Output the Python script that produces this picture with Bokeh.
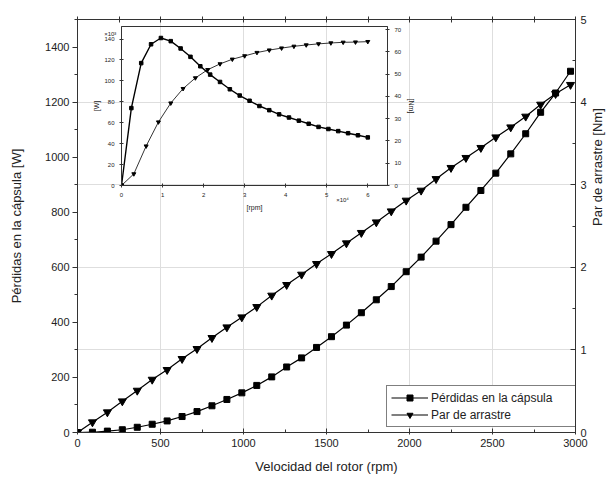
import math
from bokeh.plotting import figure
from bokeh.models import (Range1d, LinearAxis, Grid, SingleIntervalTicker, FixedTicker,
                          Legend, LegendItem, Label)
from bokeh.layouts import column
from bokeh.embed import file_html
from bokeh.resources import INLINE

# ---------------- data ----------------
speed_rpm = [0, 90, 180, 270, 360, 450, 540, 630, 720, 810, 900, 990, 1080, 1170,
             1260, 1350, 1440, 1530, 1620, 1710, 1800, 1890, 1980, 2070, 2160,
             2250, 2340, 2430, 2520, 2610, 2700, 2790, 2880, 2970]
losses_w = [0, 1, 5, 10, 19, 30, 42, 58, 76, 97, 120, 144, 171, 202,
            238, 271, 309, 348, 390, 435, 482, 530, 584, 637, 695,
            755, 818, 879, 942, 1012, 1085, 1163, 1233, 1312]
torque_nm = [0, 0.125, 0.246, 0.379, 0.508, 0.641, 0.759, 0.892, 1.013, 1.146,
             1.275, 1.396, 1.521, 1.659, 1.788, 1.913, 2.042, 2.163, 2.292,
             2.418, 2.546, 2.679, 2.809, 2.930, 3.07, 3.205, 3.326, 3.447,
             3.575, 3.696, 3.826, 3.971, 4.10, 4.21]

# inset (speed in units of 10^4 rpm)
inset_speed_loss = [0, 0.24, 0.48, 0.72, 0.96, 1.20, 1.44, 1.68, 1.92, 2.16, 2.40,
                    2.64, 2.88, 3.12, 3.36, 3.60, 3.84, 4.08, 4.32, 4.56, 4.80,
                    5.04, 5.28, 5.52, 5.76, 6.00]
inset_loss = [0, 74, 117, 135, 141, 138, 131, 123, 114, 106, 99, 92, 86, 81, 76,
              72, 68, 65, 62, 59, 56, 54, 52, 50, 48, 46]
inset_speed_torque = [0, 0.3, 0.6, 0.9, 1.2, 1.5, 1.8, 2.1, 2.4, 2.7, 3.0, 3.3,
                      3.6, 3.9, 4.2, 4.5, 4.8, 5.1, 5.4, 5.7, 6.0]
inset_torque = [0, 5.2, 17.7, 28.5, 37, 43.5, 48.3, 52, 54.6, 56.7, 58.2, 59.7,
                60.8, 61.7, 62.5, 63.1, 63.6, 64, 64.3, 64.4, 64.6]

series_names = ["Pérdidas en la cápsula", "Par de arrastre"]
top_ticks = [0, 250, 500, 750, 1000, 1250, 1500, 1750, 2000, 2250, 2500, 2750, 3000]

FONT = "Liberation Sans"
TXT = "#222222"
AX = "#333333"
GRID = "#dedede"

# ---------------- main figure ----------------
p = figure(width=615, height=482, x_range=Range1d(0, 3000), y_range=Range1d(0, 1500),
           output_backend="svg", toolbar_location=None,
           min_border_left=77, min_border_right=38, min_border_top=19,
           min_border_bottom=50,
           x_axis_label="Velocidad del rotor (rpm)",
           y_axis_label="Pérdidas en la cápsula [W]")
p.extra_y_ranges = {"torque": Range1d(0, 5)}
p.outline_line_color = AX
p.background_fill_color = "white"
p.border_fill_color = "white"

p.xgrid.ticker = SingleIntervalTicker(interval=500)
p.xgrid.grid_line_color = GRID
p.ygrid.visible = False
p.add_layout(Grid(dimension=1, y_range_name="torque",
                  ticker=SingleIntervalTicker(interval=1),
                  grid_line_color=GRID))


def style_axis(ax):
    ax.axis_line_color = AX
    ax.major_tick_line_color = AX
    ax.minor_tick_line_color = AX
    ax.major_label_text_font = FONT
    ax.major_label_text_font_size = "11px"
    ax.major_label_text_color = TXT
    ax.axis_label_text_font = FONT
    ax.axis_label_text_font_size = "13px"
    ax.axis_label_text_font_style = "normal"
    ax.axis_label_text_color = TXT


xa = p.xaxis[0]
xa.ticker = SingleIntervalTicker(interval=500, num_minor_ticks=2)
style_axis(xa)
xa.major_tick_in = 4
xa.major_tick_out = 2
xa.minor_tick_in = 3
xa.minor_tick_out = 0
xa.major_label_standoff = 4
xa.axis_label_standoff = 9

ya = p.yaxis[0]
ya.ticker = SingleIntervalTicker(interval=200, num_minor_ticks=2)
style_axis(ya)
ya.major_tick_in = 0
ya.major_tick_out = 5
ya.minor_tick_in = 0
ya.minor_tick_out = 3
ya.major_label_standoff = 3
ya.axis_label_standoff = 18

ra = LinearAxis(y_range_name="torque",
                ticker=SingleIntervalTicker(interval=1, num_minor_ticks=2),
                axis_label="Par de arrastre [Nm]")
style_axis(ra)
ra.axis_label_orientation = math.pi / 2
ra.major_tick_in = 5
ra.major_tick_out = 0
ra.minor_tick_in = 3
ra.minor_tick_out = 0
ra.major_label_standoff = 5
ra.axis_label_standoff = 8
p.add_layout(ra, "right")

ta = LinearAxis(ticker=FixedTicker(ticks=[], minor_ticks=top_ticks))
style_axis(ta)
ta.major_tick_in = 0
ta.major_tick_out = 0
ta.minor_tick_in = 3
ta.minor_tick_out = 3
p.add_layout(ta, "above")

l1 = p.line(speed_rpm, losses_w, line_color="black", line_width=1.2)
s1 = p.scatter(speed_rpm, losses_w, marker="square", size=6, fill_color="black",
               line_color="black")
l2 = p.line(speed_rpm, torque_nm, y_range_name="torque", line_color="black",
            line_width=1.2)
s2 = p.scatter(speed_rpm, torque_nm, y_range_name="torque", marker="inverted_triangle",
               size=8, fill_color="black", line_color="black")

legend = Legend(items=[LegendItem(label=series_names[0], renderers=[l1, s1]),
                       LegendItem(label=series_names[1], renderers=[l2, s2])],
                location=(309, 5))
legend.label_text_font = FONT
legend.label_text_font_size = "12px"
legend.label_text_color = TXT
legend.glyph_width = 37
legend.glyph_height = 15
legend.label_height = 15
legend.label_width = 143
legend.label_standoff = 3
legend.spacing = 2
legend.padding = 4
legend.margin = 0
legend.border_line_color = "black"
legend.border_line_width = 1
legend.background_fill_alpha = 1
p.add_layout(legend)

# multiplier notes of the inset (placed on the main canvas, under the inset area)
p.add_layout(Label(x=234, y=1449, text="×10³", text_font=FONT,
                   text_font_size="6px", text_color=TXT, text_align="right",
                   text_baseline="middle"))
p.add_layout(Label(x=1635, y=843, text="×10⁴", text_font=FONT,
                   text_font_size="6px", text_color=TXT, text_align="right",
                   text_baseline="middle"))

# ---------------- inset figure (same side borders as the main one) ----------------
q = figure(width=383, height=193, x_range=Range1d(0, 6.48), y_range=Range1d(0, 152),
           output_backend="svg", toolbar_location=None,
           min_border_left=77, min_border_right=38, min_border_top=6,
           min_border_bottom=26,
           x_axis_label="[rpm]", y_axis_label="[W]",
           background_fill_color=None, border_fill_color=None,
           styles={"position": "absolute", "left": "44px", "top": "20px",
                   "z-index": "5"})
q.extra_y_ranges = {"tq": Range1d(0, 71.4)}
q.outline_line_color = AX
q.grid.visible = False


def style_inset_axis(ax):
    ax.axis_line_color = AX
    ax.major_tick_line_color = AX
    ax.minor_tick_line_color = None
    ax.major_label_text_font = FONT
    ax.major_label_text_font_size = "6px"
    ax.major_label_text_color = TXT
    ax.axis_label_text_font = FONT
    ax.axis_label_text_font_size = "7px"
    ax.axis_label_text_font_style = "normal"
    ax.axis_label_text_color = TXT
    ax.major_tick_in = 2
    ax.major_tick_out = 2
    ax.major_label_standoff = 3
    ax.axis_label_standoff = 4


qx = q.xaxis[0]
qx.ticker = SingleIntervalTicker(interval=1)
style_inset_axis(qx)
qy = q.yaxis[0]
qy.ticker = SingleIntervalTicker(interval=20)
style_inset_axis(qy)
qy.axis_label_standoff = 1
qr = LinearAxis(y_range_name="tq", ticker=SingleIntervalTicker(interval=10),
                axis_label="[Nm]")
style_inset_axis(qr)
q.add_layout(qr, "right")

q.line(inset_speed_loss, inset_loss, line_color="black", line_width=1.4)
q.scatter(inset_speed_loss, inset_loss, marker="square", size=3.5,
          fill_color="black", line_color="black")
q.line(inset_speed_torque, inset_torque, y_range_name="tq", line_color="black",
       line_width=0.8)
q.scatter(inset_speed_torque, inset_torque, y_range_name="tq",
          marker="inverted_triangle", size=4, fill_color="black", line_color="black")

layout = column(p, q, spacing=0)
open("out.html", "w").write(file_html(layout, INLINE))
